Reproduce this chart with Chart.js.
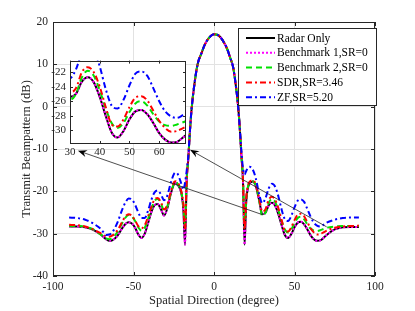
<!DOCTYPE html>
<html>
<head>
<meta charset="utf-8">
<script src="https://cdn.jsdelivr.net/npm/chart.js@4"></script>
<style>
  html, body { margin: 0; padding: 0; background: #fff; }
  #wrap { position: relative; width: 415px; height: 311px; }
  #main { position: absolute; left: 0; top: 0; }
  #inset { position: absolute; left: 40px; top: 50px; }
</style>
</head>
<body>
<div id="wrap">
  <canvas id="main" width="415" height="311" style="width:415px;height:311px"></canvas>
  <canvas id="inset" width="150" height="112" style="width:150px;height:112px"></canvas>
</div>
<script>
// spatial directions (degree), shared by all curves
const angles = [-90,-85,-80,-75,-70,-67,-65,-63,-60,-57,-55,-53,-51,-49,-47,-45,-43,-41,-39,-37,-35,-33,-31,-29,-27,-25,-24,-23,-21,-20,-19,-18,-17,-16,-15,-14,-12,-10,-8,-6,-4,-2,0,2,4,6,8,10,12,14,15,16,17,18,19,20,21,22,24,26,28,30,32,34,36,38,40,42,44,46,48,50,52,54,56,58,60,62,64,66,68,70,75,80,85,90];

const radarOnly = [-28.3,-28.3,-28.5,-29.1,-30.3,-31.3,-31.7,-31.5,-30.5,-28.7,-27.7,-27.3,-27.6,-28.6,-30.2,-31.0,-30.0,-27.6,-25.0,-23.3,-23.0,-24.2,-25.7,-24.0,-20.8,-18.4,-18.0,-18.2,-19.5,-21.0,-24.5,-32.6,-17.8,-12.5,-6.1,-0.9,5.8,10.3,12.4,14.4,15.8,16.7,17.1,17.0,16.4,15.3,13.8,11.6,9.1,3.6,0.0,-5.0,-11.5,-17.5,-32.6,-22.5,-19.3,-18.2,-17.7,-18.8,-22.0,-25.4,-25.0,-23.3,-22.7,-23.4,-25.4,-28.0,-30.3,-31.0,-30.1,-28.5,-27.4,-27.2,-27.8,-29.0,-30.4,-31.3,-31.7,-31.6,-31.0,-30.3,-29.0,-28.5,-28.4,-28.4];

const bench1 = [-28.3,-28.3,-28.5,-29.1,-30.3,-31.3,-31.7,-31.5,-30.5,-28.7,-27.7,-27.3,-27.6,-28.6,-30.2,-31.0,-30.0,-27.6,-25.0,-23.3,-23.0,-24.2,-25.7,-24.0,-20.8,-18.4,-18.0,-18.2,-19.5,-21.0,-24.5,-32.6,-17.8,-12.5,-6.1,-0.9,5.8,10.3,12.4,14.4,15.8,16.7,17.1,17.0,16.4,15.3,13.8,11.6,9.1,3.6,0.0,-5.0,-11.5,-17.5,-32.6,-22.5,-19.3,-18.2,-17.7,-18.8,-22.0,-25.4,-25.0,-23.3,-22.7,-23.4,-25.4,-28.0,-30.3,-31.0,-30.1,-28.5,-27.4,-27.2,-27.8,-29.0,-30.4,-31.3,-31.7,-31.6,-31.0,-30.3,-29.0,-28.5,-28.4,-28.4];

const bench2 = [-28.2,-28.2,-28.4,-29.0,-30.3,-31.1,-31.3,-31.0,-29.6,-27.5,-26.2,-25.6,-25.9,-27.0,-28.5,-29.3,-28.6,-26.6,-24.2,-22.3,-21.8,-22.8,-24.6,-23.5,-20.6,-18.3,-17.8,-18.0,-19.3,-20.8,-23.5,-28.0,-17.6,-12.4,-6.0,-0.9,5.8,10.3,12.4,14.4,15.8,16.7,17.1,17.0,16.4,15.3,13.8,11.6,9.1,3.6,0.0,-5.0,-11.4,-17.3,-28.5,-22.0,-19.0,-18.0,-17.6,-18.6,-22.0,-25.8,-25.0,-22.7,-21.8,-22.5,-24.5,-27.0,-29.0,-29.7,-29.0,-27.5,-26.3,-26.0,-26.6,-27.8,-28.8,-29.3,-29.4,-29.2,-28.9,-28.6,-28.3,-28.2,-28.2,-28.2];

const sdr = [-27.9,-28.0,-28.3,-29.0,-30.0,-30.6,-30.7,-30.4,-29.2,-27.2,-25.9,-25.4,-25.8,-26.9,-28.2,-28.7,-28.0,-26.0,-23.7,-22.0,-21.6,-22.5,-24.3,-23.2,-20.3,-17.9,-17.6,-17.8,-19.0,-20.5,-23.0,-29.0,-17.5,-12.3,-6.0,-0.9,5.8,10.3,12.4,14.4,15.8,16.7,17.1,17.0,16.4,15.3,13.8,11.6,9.1,3.6,0.0,-5.0,-11.3,-17.0,-29.0,-21.8,-18.8,-17.8,-17.4,-18.4,-21.5,-24.8,-24.2,-22.0,-21.3,-22.0,-24.0,-26.8,-29.2,-29.5,-28.5,-26.8,-25.5,-25.3,-25.9,-27.3,-28.7,-29.7,-30.2,-30.1,-29.7,-29.3,-28.6,-28.3,-28.2,-28.1];

const zf = [-26.2,-26.3,-26.7,-27.6,-29.0,-30.3,-30.2,-29.6,-27.4,-24.3,-22.6,-21.7,-21.9,-23.2,-25.0,-26.3,-26.3,-24.6,-22.1,-20.3,-19.8,-20.7,-22.1,-21.0,-18.2,-16.0,-15.6,-15.7,-17.4,-18.6,-19.6,-18.0,-15.2,-11.8,-6.0,-0.9,5.8,10.3,12.4,14.4,15.8,16.7,17.1,17.0,16.4,15.3,13.8,11.6,9.1,3.6,0.0,-5.0,-10.5,-14.5,-16.0,-15.2,-14.5,-14.2,-14.8,-17.0,-20.6,-22.8,-21.6,-19.3,-18.2,-18.9,-21.2,-24.3,-26.6,-27.0,-25.8,-23.8,-22.2,-21.9,-22.5,-24.2,-26.0,-27.4,-28.1,-28.3,-27.9,-27.4,-26.7,-26.3,-26.2,-26.2];

const seriesNames = ['Radar Only', 'Benchmark 1,SR=0', 'Benchmark 2,SR=0', 'SDR,SR=3.46', 'ZF,SR=5.20'];
const seriesValues = [radarOnly, bench1, bench2, sdr, zf];

const xTicks = [-100, -50, 0, 50, 100];
const yTicks = [-40, -30, -20, -10, 0, 10, 20];
const insetXTicks = [30, 40, 50, 60];
const insetYTicks = [-30, -28, -26, -24, -22];

// zoom arrows: from the zoomed region of the main plot to the inset corners
const arrowFrom = [[30, -25.5], [70, -28.4]];
const arrowTo = [[-84.5, -10.4], [-14.9, -10.2]];

// line styles
const colors = ['#000000', '#ff00ff', '#00e000', '#ff0000', '#0000ff'];
const dashes = [[], [2, 2], [6, 4], [6, 3, 2, 3], [6, 3, 2, 3]];

const serif = 'Liberation Serif, Times New Roman, serif';
const axisColor = '#262626';

function makeSets() {
  return seriesValues.map((vals, i) => ({
    label: seriesNames[i],
    data: angles.map((a, k) => ({x: a, y: vals[k]})),
    borderColor: colors[i],
    borderDash: dashes[i],
    borderWidth: 2,
    pointRadius: 0,
    fill: false,
    cubicInterpolationMode: 'monotone',
    order: seriesValues.length - i
  }));
}

// box round the axes with inward tick marks on all four sides
function drawFrame(chart, len) {
  const {ctx, chartArea: a, scales: {x, y}} = chart;
  ctx.save();
  ctx.strokeStyle = axisColor;
  ctx.lineWidth = 1;
  ctx.setLineDash([]);
  ctx.beginPath();
  x.ticks.forEach(t => {
    const px = Math.round(x.getPixelForValue(t.value)) + 0.5;
    ctx.moveTo(px, a.bottom); ctx.lineTo(px, a.bottom - len);
    ctx.moveTo(px, a.top); ctx.lineTo(px, a.top + len);
  });
  y.ticks.forEach(t => {
    const py = Math.round(y.getPixelForValue(t.value)) + 0.5;
    ctx.moveTo(a.left, py); ctx.lineTo(a.left + len, py);
    ctx.moveTo(a.right, py); ctx.lineTo(a.right - len, py);
  });
  ctx.stroke();
  ctx.strokeRect(Math.round(a.left) + 0.5, Math.round(a.top) + 0.5, Math.round(a.width) - 1, Math.round(a.height) - 1);
  ctx.restore();
}

const mainPlugin = {
  id: 'mainDecor',
  afterDatasetsDraw(chart) {
    const {ctx, chartArea: a, scales: {x, y}} = chart;
    drawFrame(chart, 4);

    // arrows
    ctx.save();
    ctx.strokeStyle = '#222';
    ctx.fillStyle = '#000';
    ctx.lineWidth = 0.8;
    arrowFrom.forEach((p, i) => {
      const x0 = x.getPixelForValue(p[0]), y0 = y.getPixelForValue(p[1]);
      const x1 = x.getPixelForValue(arrowTo[i][0]), y1 = y.getPixelForValue(arrowTo[i][1]);
      const ang = Math.atan2(y1 - y0, x1 - x0);
      ctx.beginPath();
      ctx.moveTo(x0, y0);
      ctx.lineTo(x1 - 6 * Math.cos(ang), y1 - 6 * Math.sin(ang));
      ctx.stroke();
      ctx.beginPath();
      ctx.moveTo(x1, y1);
      ctx.lineTo(x1 - 9 * Math.cos(ang) + 3.5 * Math.sin(ang), y1 - 9 * Math.sin(ang) - 3.5 * Math.cos(ang));
      ctx.lineTo(x1 - 6 * Math.cos(ang), y1 - 6 * Math.sin(ang));
      ctx.lineTo(x1 - 9 * Math.cos(ang) - 3.5 * Math.sin(ang), y1 - 9 * Math.sin(ang) + 3.5 * Math.cos(ang));
      ctx.closePath();
      ctx.fill();
    });
    ctx.restore();

    // legend
    const w = 139, h = 78;
    const lx = a.right + 2 - w, ly = a.top + 6;
    ctx.save();
    ctx.fillStyle = '#fff';
    ctx.fillRect(lx, ly, w, h);
    ctx.strokeStyle = axisColor;
    ctx.lineWidth = 1;
    ctx.strokeRect(lx + 0.5, ly + 0.5, w - 1, h - 1);
    ctx.font = '11.5px ' + serif;
    ctx.textBaseline = 'middle';
    chart.data.datasets.forEach((ds, i) => {
      const cy = ly + 10 + i * 14.8;
      ctx.strokeStyle = ds.borderColor;
      ctx.lineWidth = 2;
      ctx.setLineDash(ds.borderDash);
      ctx.beginPath();
      ctx.moveTo(lx + 8, cy);
      ctx.lineTo(lx + 37, cy);
      ctx.stroke();
      ctx.setLineDash([]);
      ctx.fillStyle = '#000';
      ctx.fillText(ds.label, lx + 39, cy + 0.5);
    });
    ctx.restore();
  }
};

const insetPlugin = {
  id: 'insetDecor',
  beforeDraw(chart) {
    const {ctx, chartArea: a} = chart;
    ctx.save();
    ctx.fillStyle = '#fff';
    ctx.fillRect(a.left, a.top, a.width, a.height);
    ctx.restore();
  },
  afterDatasetsDraw(chart) {
    drawFrame(chart, 3);
  }
};

const tickFont = {family: serif, size: 11.5};

new Chart(document.getElementById('main'), {
  type: 'line',
  data: {datasets: makeSets()},
  options: {
    responsive: false,
    animation: false,
    layout: {padding: {top: 22, right: 40, left: 0, bottom: 0}},
    plugins: {legend: {display: false}, tooltip: {enabled: false}},
    scales: {
      x: {
        type: 'linear', min: -100, max: 100,
        afterBuildTicks: s => { s.ticks = xTicks.map(v => ({value: v})); },
        afterFit: s => { s.height = 35; },
        grid: {color: '#e2e2e2', drawTicks: false},
        border: {display: false},
        ticks: {padding: 4, color: axisColor, font: tickFont, maxRotation: 0},
        title: {display: true, text: 'Spatial Direction (degree)', color: axisColor,
                font: {family: serif, size: 12.5}, padding: {top: 0, bottom: 2.5}}
      },
      y: {
        type: 'linear', min: -40, max: 20,
        afterBuildTicks: s => { s.ticks = yTicks.map(v => ({value: v})); },
        afterFit: s => { s.width = 53; },
        grid: {color: '#e2e2e2', drawTicks: false},
        border: {display: false},
        ticks: {padding: 5, color: axisColor, font: tickFont},
        title: {display: true, text: 'Transmit Beampattern (dB)', color: axisColor,
                font: {family: serif, size: 12.5}, padding: {top: 19, bottom: 0}}
      }
    }
  },
  plugins: [mainPlugin]
});

new Chart(document.getElementById('inset'), {
  type: 'line',
  data: {datasets: makeSets()},
  options: {
    responsive: false,
    animation: false,
    layout: {padding: {top: 6, right: 4, left: 0, bottom: 0}},
    plugins: {legend: {display: false}, tooltip: {enabled: false}},
    scales: {
      x: {
        type: 'linear', min: 30, max: 69,
        afterBuildTicks: s => { s.ticks = insetXTicks.map(v => ({value: v})); },
        afterFit: s => { s.height = 18; },
        grid: {display: false, drawTicks: false},
        border: {display: false},
        ticks: {padding: 2, color: axisColor, font: {family: serif, size: 11}, maxRotation: 0}
      },
      y: {
        type: 'linear', min: -31.9, max: -20.4,
        afterBuildTicks: s => { s.ticks = insetYTicks.map(v => ({value: v})); },
        afterFit: s => { s.width = 30; },
        grid: {display: false, drawTicks: false},
        border: {display: false},
        ticks: {padding: 4, color: axisColor, font: {family: serif, size: 11}}
      }
    }
  },
  plugins: [insetPlugin]
});
</script>
</body>
</html>
